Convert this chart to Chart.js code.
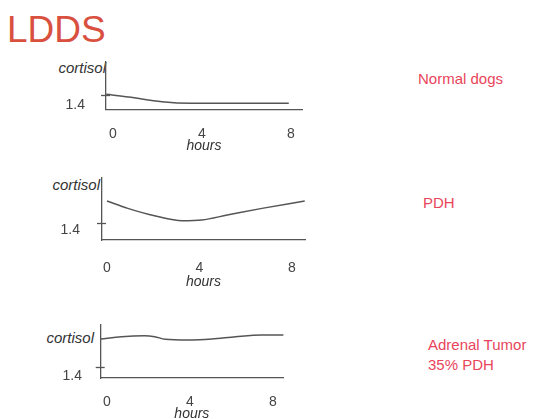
<!DOCTYPE html>
<html>
<head>
<meta charset="utf-8">
<script src="https://cdn.jsdelivr.net/npm/chart.js@4.4.0/dist/chart.umd.min.js"></script>
<style>
  html, body { margin: 0; padding: 0; background: #fff; }
  body { width: 536px; height: 419px; overflow: hidden; position: relative; font-family: "Liberation Sans", Arial, sans-serif; }
  .box { position: absolute; left: 0; width: 320px; }
  .txt { position: absolute; white-space: nowrap; line-height: 1; }
  #title { left: 7px; top: 11px; font-size: 37px; color: #d9503f; }
  .lbl { font-size: 15px; color: #e8455a; line-height: 20px; }
  .ylab { font-size: 15px; font-style: italic; color: #333; text-align: right; width: 80px; }
</style>
</head>
<body>
<div id="title" class="txt">LDDS</div>

<div class="txt ylab" style="left:26px; top:60px;">cortisol</div>
<div class="txt ylab" style="left:20px; top:177px;">cortisol</div>
<div class="txt ylab" style="left:14px; top:330px;">cortisol</div>

<div class="txt lbl" style="left:418px; top:69px;">Normal dogs</div>
<div class="txt lbl" style="left:423px; top:193px;">PDH</div>
<div class="txt lbl" style="left:428px; top:335px;">Adrenal Tumor<br>35% PDH</div>

<div class="box" id="b1"><canvas id="c1"></canvas></div>
<div class="box" id="b2"><canvas id="c2"></canvas></div>
<div class="box" id="b3"><canvas id="c3"></canvas></div>

<script>
// tick labels
const xTicks = [0, 4, 8]
const yTicks = [1.4]

// normal dogs
const hoursNormal = [-0.3, 0.7, 2.2, 3.5, 5.0, 7.9]
const cortisolNormal = [1.47, 1.21, 0.75, 0.6, 0.6, 0.6]

// PDH
const hoursPDH = [0, 0.9, 2.1, 3.25, 4.1, 5.2, 6.7, 8.55]
const cortisolPDH = [3.16, 2.56, 1.94, 1.56, 1.62, 2.02, 2.56, 3.16]

// adrenal tumor
const hoursAdrenal = [-0.3, 0.7, 1.8, 2.3, 2.8, 3.9, 5.05, 6.2, 7.45, 8.5]
const cortisolAdrenal = [4.83, 5.12, 5.24, 5.12, 4.8, 4.71, 4.83, 5.12, 5.33, 5.33]

const FONT = '"Liberation Sans", Arial, sans-serif'
const INK = '#555'

// small "+" tick on the y axis, crossing the axis line
const crossTicks = {
  id: 'crossTicks',
  afterDatasetsDraw(chart){
    const y = chart.scales.y, ctx = chart.ctx, x0 = chart.chartArea.left
    ctx.save()
    ctx.strokeStyle = INK
    ctx.lineWidth = 1.3
    y.ticks.forEach(t => {
      const py = Math.round(y.getPixelForValue(t.value)) + 0.5
      ctx.beginPath(); ctx.moveTo(x0 - 5, py); ctx.lineTo(x0 + 4, py); ctx.stroke()
    })
    ctx.restore()
  }
}

function panel(id, boxId, xs, ys, g){
  const lh = 14 * 1.2
  const height = g.hoursY - g.top + 10
  const box = document.getElementById(boxId)
  box.style.top = g.top + 'px'
  box.style.height = height + 'px'

  const pxPerHour = (g.x8 - g.x0) / 8
  const xMin = (g.axisX - g.x0) / pxPerHour
  const xMax = 8 + (g.axisRight - g.x8) / pxPerHour
  const yMax = (g.axisBottom - g.axisTop) / (g.axisBottom - g.tickY) * yTicks[0]

  new Chart(document.getElementById(id), {
    type: 'scatter',
    data: { datasets: [{
      data: xs.map((x, i) => ({ x, y: ys[i] })),
      showLine: true, borderColor: INK, borderWidth: 1.5,
      pointRadius: 0, cubicInterpolationMode: 'monotone', clip: false
    }]},
    plugins: [crossTicks],
    options: {
      responsive: true, maintainAspectRatio: false, animation: false,
      plugins: { legend: { display: false }, tooltip: { enabled: false } },
      layout: { padding: { left: 0, right: 320 - g.axisRight, top: g.axisTop - g.top, bottom: 0 } },
      scales: {
        x: {
          type: 'linear', min: xMin, max: xMax,
          afterBuildTicks: s => { s.ticks = xTicks.map(v => ({ value: v })) },
          afterFit: s => { s.height = g.top + height - g.axisBottom; s.paddingLeft = 0; s.paddingRight = 0 },
          grid: { display: false },
          border: { display: true, color: INK, width: 1.3 },
          ticks: { color: '#444', font: { family: FONT, size: 14 }, padding: g.xLabelY - g.axisBottom - lh / 2 - 6, maxRotation: 0 },
          title: { display: true, text: 'hours', color: '#333',
            font: { family: FONT, size: 14, style: 'italic' },
            padding: { top: 0, bottom: (g.top + height) - g.hoursY - lh / 2 } }
        },
        y: {
          type: 'linear', min: 0, max: yMax,
          afterBuildTicks: s => { s.ticks = yTicks.map(v => ({ value: v })) },
          afterFit: s => { s.width = g.axisX; s.paddingTop = 0; s.paddingBottom = 0 },
          grid: { display: false },
          border: { display: true, color: INK, width: 1.3 },
          ticks: { color: '#444', font: { family: FONT, size: 14 },
            padding: g.axisX - g.yLabelRight, labelOffset: g.yLabelY - g.tickY,
            callback: v => v.toFixed(1) }
        }
      }
    }
  })
}

panel('c1', 'b1', hoursNormal, cortisolNormal,
  { top: 55, axisX: 106, axisTop: 62, axisBottom: 109.5, axisRight: 302, tickY: 95,
    x0: 113, x8: 291, xLabelY: 132, hoursY: 146, yLabelY: 105, yLabelRight: 93 })

panel('c2', 'b2', hoursPDH, cortisolPDH,
  { top: 170, axisX: 102, axisTop: 178, axisBottom: 240, axisRight: 305, tickY: 222.7,
    x0: 107, x8: 292, xLabelY: 266, hoursY: 282, yLabelY: 230, yLabelRight: 88 })

panel('c3', 'b3', hoursAdrenal, cortisolAdrenal,
  { top: 318, axisX: 100.7, axisTop: 325, axisBottom: 378, axisRight: 283, tickY: 366.7,
    x0: 107, x8: 273, xLabelY: 400, hoursY: 414, yLabelY: 376, yLabelRight: 90 })
</script>
</body>
</html>
